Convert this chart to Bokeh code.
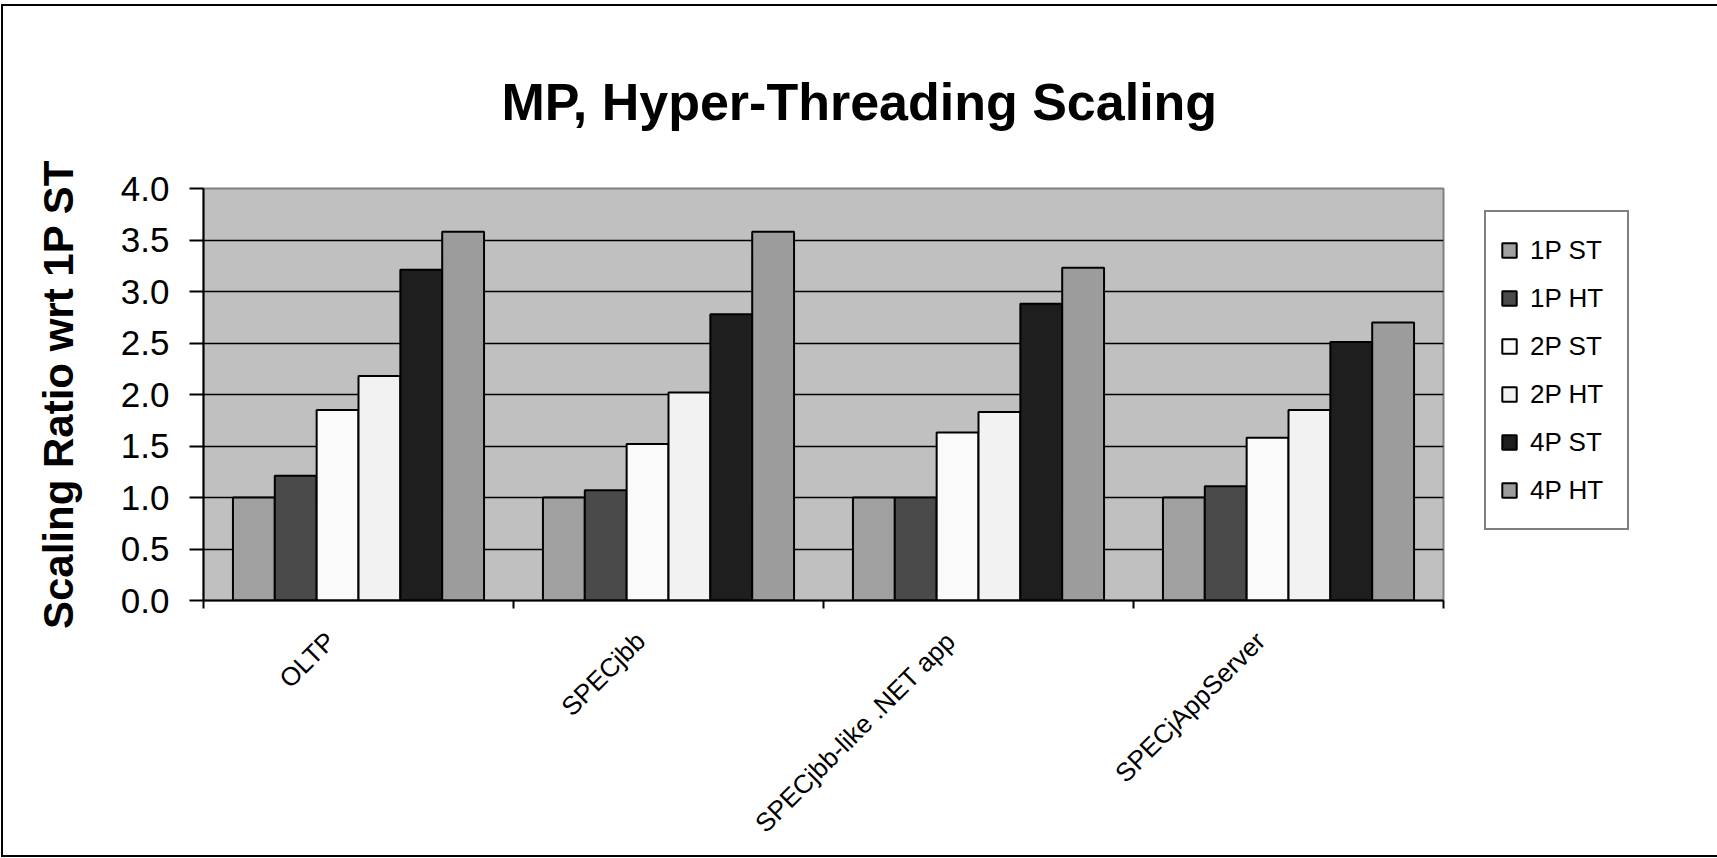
from math import pi
from bokeh.plotting import figure
from bokeh.models import ColumnDataSource, FixedTicker, Legend, LegendItem, Range1d, PrintfTickFormatter
from bokeh.embed import file_html
from bokeh.resources import INLINE

categories = ["OLTP", "SPECjbb", "SPECjbb-like .NET app", "SPECjAppServer"]
series = ["1P ST", "1P HT", "2P ST", "2P HT", "4P ST", "4P HT"]
v_1p_st = [1.00, 1.00, 1.00, 1.00]
v_1p_ht = [1.21, 1.07, 1.00, 1.11]
v_2p_st = [1.85, 1.52, 1.63, 1.58]
v_2p_ht = [2.18, 2.02, 1.83, 1.85]
v_4p_st = [3.21, 2.78, 2.88, 2.51]
v_4p_ht = [3.58, 3.58, 3.23, 2.70]
y_ticks = [0.0, 0.5, 1.0, 1.5, 2.0, 2.5, 3.0, 3.5, 4.0]
chart_title = "MP, Hyper-Threading Scaling"

values = [v_1p_st, v_1p_ht, v_2p_st, v_2p_ht, v_4p_st, v_4p_ht]
colors = ["#A0A0A0", "#4A4A4A", "#FAFAFA", "#F2F2F2", "#1E1E1E", "#9C9C9C"]

FONT = "Liberation Sans"
p = figure(frame_width=1240, frame_height=412, output_backend="svg", toolbar_location=None,
           x_range=Range1d(0, len(categories)), y_range=Range1d(0, 4),
           min_border_left=200, min_border_right=267, min_border_top=182, min_border_bottom=255,
           title=chart_title)
p.styles = {"border": "2px solid black", "margin-left": "1px", "margin-top": "4px"}
p.background_fill_color = "#C0C0C0"
p.border_fill_color = "white"
p.outline_line_color = "#808080"
p.outline_line_width = 2

p.title.text_font = FONT
p.title.text_font_size = "52px"
p.title.text_font_style = "bold"
p.title.text_color = "black"
p.title.align = "left"
p.title.offset = 298
p.title.standoff = 116

bw = 0.135
renderers = []
for j, (name, vals, col) in enumerate(zip(series, values, colors)):
    xs = [k + 0.5 + (j - 2.5) * bw for k in range(len(categories))]
    src = ColumnDataSource(dict(x=xs, top=vals))
    r = p.vbar(x="x", top="top", width=bw, bottom=0, source=src,
               fill_color=col, line_color="black", line_width=2)
    renderers.append((name, r))

# x axis: labels anchored slightly left of each category centre, as in the reference
label_pos = [k + 0.41 for k in range(len(categories))]
xa = p.below[0]
xa.ticker = FixedTicker(ticks=label_pos, minor_ticks=list(range(len(categories) + 1)))
xa.major_label_overrides = {pos: c for pos, c in zip(label_pos, categories)}
xa.major_label_orientation = pi / 4
xa.major_tick_out = 0
xa.major_tick_in = 0
xa.minor_tick_out = 8
xa.minor_tick_in = 0
xa.minor_tick_line_color = "black"
xa.minor_tick_line_width = 2
xa.axis_line_color = "black"
xa.axis_line_width = 2
xa.major_label_text_font = FONT
xa.major_label_text_font_size = "26px"
xa.major_label_text_color = "black"
xa.major_label_standoff = 28

# y axis
ya = p.yaxis[0]
ya.ticker = FixedTicker(ticks=y_ticks, minor_ticks=[])
ya.formatter = PrintfTickFormatter(format="%.1f")
ya.major_tick_out = 14
ya.major_tick_in = 0
ya.major_tick_line_color = "black"
ya.major_tick_line_width = 2
ya.axis_line_color = "black"
ya.axis_line_width = 2
ya.major_label_text_font = FONT
ya.major_label_text_font_size = "35px"
ya.major_label_text_color = "black"
ya.major_label_standoff = 20
ya.axis_label = "Scaling Ratio wrt 1P ST"
ya.axis_label_text_font = FONT
ya.axis_label_text_font_size = "42px"
ya.axis_label_text_font_style = "bold"
ya.axis_label_text_color = "black"
ya.axis_label_standoff = 36

p.xgrid.visible = False
p.ygrid.ticker = FixedTicker(ticks=y_ticks)
p.ygrid.grid_line_color = "black"
p.ygrid.grid_line_width = 1.5

legend = Legend(items=[LegendItem(label=n, renderers=[r]) for n, r in renderers],
                location=(41, 70))
legend.label_text_font = FONT
legend.label_text_font_size = "26px"
legend.label_text_color = "black"
legend.glyph_width = 18
legend.glyph_height = 18
legend.label_height = 48
legend.label_width = 83
legend.label_standoff = 12
legend.spacing = 0
legend.padding = 14
legend.margin = 0
legend.border_line_color = "black"
legend.border_line_width = 2
legend.background_fill_color = "white"
legend.background_fill_alpha = 1.0
p.add_layout(legend, "right")

open("out.html", "w").write(file_html(p, INLINE))
